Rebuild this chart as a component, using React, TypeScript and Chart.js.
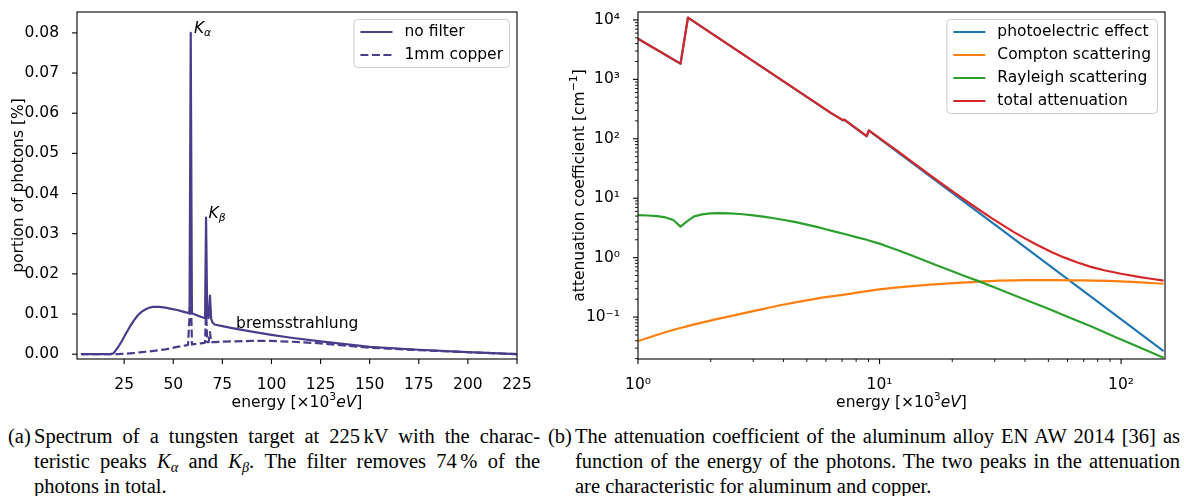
import React, { useEffect, useRef } from "react";
import { Chart, registerables } from "chart.js";

Chart.register(...registerables);

// ---------------- (a) spectrum of a tungsten target ----------------
const spectrumEnergy = [3, 10, 15, 18, 19.5, 20.5, 22, 24, 26, 28, 30, 32, 34, 36, 38, 40, 43, 46, 49, 52, 55, 56.5, 57.5, 58.3, 58.9, 59.5, 60.5, 62, 64, 65.8, 66.2, 66.7, 67.3, 68, 68.7, 69.3, 70, 71, 75, 80, 90, 100, 110, 125, 150, 175, 200, 225];
const spectrumNoFilter = [0, 0, 0, 0, 0.0002, 0.0008, 0.0018, 0.0034, 0.0052, 0.0069, 0.0084, 0.0097, 0.0106, 0.0112, 0.0116, 0.0118, 0.0118, 0.0116, 0.0113, 0.011, 0.0106, 0.0104, 0.0103, 0.0105, 0.08, 0.0102, 0.01, 0.0097, 0.0093, 0.009, 0.0091, 0.034, 0.0092, 0.009, 0.0146, 0.0088, 0.0079, 0.0074, 0.007, 0.0065, 0.0056, 0.0048, 0.0041, 0.0032, 0.0018, 0.0011, 0.0005, 0];
const spectrumCopper = [0, 0, 0, 0, 0, 0, 0, 0.0001, 0.0001, 0.0002, 0.0003, 0.0004, 0.0005, 0.0006, 0.0007, 0.0008, 0.001, 0.0012, 0.0015, 0.0018, 0.0021, 0.0022, 0.0023, 0.0095, 0.018, 0.0024, 0.0025, 0.0026, 0.0027, 0.0028, 0.0029, 0.011, 0.003, 0.003, 0.0055, 0.003, 0.003, 0.003, 0.0031, 0.0032, 0.0033, 0.0033, 0.0031, 0.0027, 0.0016, 0.001, 0.0005, 0];
const spectrumSeries = ["no filter", "1mm copper"];
const spectrumXTicks = [25, 50, 75, 100, 125, 150, 175, 200, 225];
const spectrumYTicks = [0, 0.01, 0.02, 0.03, 0.04, 0.05, 0.06, 0.07, 0.08];
const spectrumRange = { xMin: 1, xMax: 225, yMin: -0.0012, yMax: 0.0852 };
// annotation anchors (energy, portion)
const kAlphaAt = [60.5, 0.08];
const kBetaAt = [68, 0.034];
const bremsAt = [82, 0.0066];

// ---------------- (b) attenuation of EN AW 2014 ----------------
const photoEnergy = [1, 1.5, 1.61, 6.27, 7.05, 7.15, 8.85, 9.03, 31.6, 150];
const photoelectric = [4840, 1835, 10940, 273, 204, 209, 110, 137, 3.07, 0.0268];
const comptonEnergy = [1, 1.25, 1.51, 1.8, 2.24, 3, 4.03, 5.5, 7.28, 10, 14, 19.4, 28.8, 40, 51.8, 70, 93.5, 120, 150];
const compton = [0.0395, 0.053, 0.066, 0.079, 0.097, 0.126, 0.163, 0.205, 0.241, 0.292, 0.335, 0.369, 0.404, 0.418, 0.42, 0.415, 0.404, 0.385, 0.364];
const rayleighEnergy = [1, 1.1, 1.2, 1.3, 1.4, 1.5, 1.6, 1.7, 1.84, 2.0, 2.15, 2.4, 2.72, 3.0, 3.3, 3.65, 4.03, 4.5, 5.0, 5.5, 5.99, 6.6, 7.3, 8.0, 8.85, 9.03, 10, 11, 12, 13.1, 15, 17, 19.4, 22.5, 26, 30, 35, 42.7, 50, 63.2, 75, 93.5, 115, 150];
const rayleigh = [5.21, 5.12, 5.0, 4.75, 4.3, 3.32, 4.1, 4.89, 5.35, 5.55, 5.63, 5.57, 5.37, 5.15, 4.9, 4.6, 4.3, 3.95, 3.6, 3.3, 3.0, 2.72, 2.45, 2.22, 2.0, 1.94, 1.72, 1.5, 1.32, 1.15, 0.93, 0.76, 0.62, 0.49, 0.395, 0.315, 0.245, 0.178, 0.138, 0.093, 0.07, 0.047, 0.033, 0.0206];
const totalEnergy = [1, 1.5, 1.61, 6.27, 7.05, 7.15, 8.85, 9.03, 12, 14, 16.5, 19.4, 22, 24.5, 28.8, 32, 36, 40, 45, 52, 58, 66, 75, 85, 100, 120, 135, 150];
const totalAttenuation = [4850, 1840, 10950, 275, 206, 211, 111, 139, 60, 37.7, 23.1, 14.4, 10.0, 7.4, 4.77, 3.62, 2.69, 2.11, 1.63, 1.22, 1.01, 0.83, 0.7, 0.614, 0.536, 0.469, 0.437, 0.41];
const attenuationSeries = ["photoelectric effect", "Compton scattering", "Rayleigh scattering", "total attenuation"];
const energyTickExponents = [0, 1, 2];
const coefficientTickExponents = [-1, 0, 1, 2, 3, 4];
const attenuationRange = { xMin: 1, xMax: 152, yMin: 0.0197, yMax: 13600 };

// ---------------- styles ----------------
const FONT = '"DejaVu Sans"';
const FS = 15.5;
const SLATE = "#483d8b";
const BLUE = "#1f77b4";
const ORANGE = "#ff7f0e";
const GREEN = "#2ca02c";
const RED = "#d62728";
const LW = 2.2;

type Seg = { t: string; it?: boolean; sup?: boolean; sub?: boolean };

const toPoints = (xs: number[], ys: number[]) => xs.map((x, i) => ({ x, y: ys[i] }));

function segFont(s: Seg, size: number) {
  const sz = s.sup || s.sub ? size * 0.7 : size;
  return `${s.it ? "italic " : ""}${sz}px ${FONT}`;
}
function richWidth(ctx: CanvasRenderingContext2D, segs: Seg[], size: number) {
  let w = 0;
  for (const s of segs) {
    ctx.font = segFont(s, size);
    w += ctx.measureText(s.t).width;
  }
  return w;
}
function drawRich(ctx: CanvasRenderingContext2D, segs: Seg[], x: number, y: number, size: number, align: string) {
  const w = richWidth(ctx, segs, size);
  let cx = align === "center" ? x - w / 2 : align === "right" ? x - w : x;
  ctx.textAlign = "left";
  ctx.textBaseline = "alphabetic";
  for (const s of segs) {
    ctx.font = segFont(s, size);
    const dy = s.sup ? -0.42 * size : s.sub ? 0.22 * size : 0;
    ctx.fillText(s.t, cx, y + dy);
    cx += ctx.measureText(s.t).width;
  }
}
function drawRotated(ctx: CanvasRenderingContext2D, segs: Seg[], x: number, y: number, size: number) {
  ctx.save();
  ctx.translate(x, y);
  ctx.rotate(-Math.PI / 2);
  drawRich(ctx, segs, 0, 0, size, "center");
  ctx.restore();
}
function line(ctx: CanvasRenderingContext2D, x1: number, y1: number, x2: number, y2: number) {
  ctx.beginPath();
  ctx.moveTo(x1, y1);
  ctx.lineTo(x2, y2);
  ctx.stroke();
}
function drawFrame(ctx: CanvasRenderingContext2D, a: any) {
  ctx.strokeStyle = "#000";
  ctx.lineWidth = 1.1;
  ctx.setLineDash([]);
  ctx.strokeRect(a.left, a.top, a.right - a.left, a.bottom - a.top);
}
function drawLegend(ctx: CanvasRenderingContext2D, items: { label: string; color: string; dash?: number[] }[], right: number, top: number) {
  ctx.font = `${FS}px ${FONT}`;
  let maxW = 0;
  for (const it of items) maxW = Math.max(maxW, ctx.measureText(it.label).width);
  const pad = 6.5, handle = 32, gap = 12, rowH = 23, edge = 12.5;
  const width = pad + handle + gap + maxW + pad;
  const height = 2 * edge + (items.length - 1) * rowH;
  const left = right - width;
  ctx.save();
  ctx.beginPath();
  (ctx as any).roundRect(left, top, width, height, 4);
  ctx.fillStyle = "rgba(255,255,255,0.8)";
  ctx.fill();
  ctx.strokeStyle = "#cccccc";
  ctx.lineWidth = 1;
  ctx.stroke();
  items.forEach((it, i) => {
    const y = top + edge + i * rowH;
    ctx.strokeStyle = it.color;
    ctx.lineWidth = LW;
    ctx.setLineDash(it.dash || []);
    line(ctx, left + pad, y, left + pad + handle, y);
    ctx.setLineDash([]);
    ctx.fillStyle = "#000";
    ctx.font = `${FS}px ${FONT}`;
    ctx.textAlign = "left";
    ctx.textBaseline = "middle";
    ctx.fillText(it.label, left + pad + handle + gap, y);
  });
  ctx.restore();
}

const energyTitle: Seg[] = [{ t: "energy [×10" }, { t: "3", sup: true }, { t: "eV", it: true }, { t: "]" }];
const DASH = [8, 3.5];

const sup: Record<string, string> = { "0": "⁰", "1": "¹", "2": "²", "3": "³", "4": "⁴", "-": "⁻" };
const pow10Label = (v: number) => "10" + String(Math.round(Math.log10(v))).split("").map((c) => sup[c]).join("");

const tickFont = { family: "DejaVu Sans", size: FS };

// fix the plot area: fixed axis thickness and no extra label padding
const fitX = (s: any) => { s.height = 61; s.paddingLeft = 0; s.paddingRight = 0; s.paddingTop = 0; s.paddingBottom = 0; };
const fitY = (w: number) => (s: any) => { s.width = w; s.paddingLeft = 0; s.paddingRight = 0; s.paddingTop = 0; s.paddingBottom = 0; };

function spectrumConfig(): any {
  const decor = {
    id: "spectrumDecor",
    afterDraw(chart: any) {
      const { ctx, chartArea: a, scales } = chart;
      const xs = scales.x, ys = scales.y;
      ctx.save();
      drawFrame(ctx, a);
      ctx.lineWidth = 1.1;
      for (const v of spectrumXTicks) { const p = xs.getPixelForValue(v); line(ctx, p, a.bottom, p, a.bottom + 5); }
      for (const v of spectrumYTicks) { const p = ys.getPixelForValue(v); line(ctx, a.left - 5, p, a.left, p); }
      ctx.fillStyle = "#000";
      drawRich(ctx, energyTitle, (a.left + a.right) / 2, 407, FS, "center");
      drawRotated(ctx, [{ t: "portion of photons [%]" }], 23, (a.top + a.bottom) / 2, FS);
      drawRich(ctx, [{ t: "K", it: true }, { t: "α", it: true, sub: true }], xs.getPixelForValue(kAlphaAt[0]), ys.getPixelForValue(kAlphaAt[1]), FS, "left");
      drawRich(ctx, [{ t: "K", it: true }, { t: "β", it: true, sub: true }], xs.getPixelForValue(kBetaAt[0]), ys.getPixelForValue(kBetaAt[1]), FS, "left");
      drawRich(ctx, [{ t: "bremsstrahlung" }], xs.getPixelForValue(bremsAt[0]), ys.getPixelForValue(bremsAt[1]), FS, "left");
      drawLegend(ctx, [
        { label: spectrumSeries[0], color: SLATE },
        { label: spectrumSeries[1], color: SLATE, dash: DASH },
      ], a.right - 7.5, a.top + 7.5);
      ctx.restore();
    },
  };
  const ds = (label: string, ys: number[], dash?: number[]) => ({
    label, data: toPoints(spectrumEnergy, ys), borderColor: SLATE, backgroundColor: SLATE,
    borderWidth: LW, borderDash: dash || [], pointRadius: 0, tension: 0, fill: false,
    borderJoinStyle: "round", borderCapStyle: "butt",
  });
  return {
    type: "line",
    data: { datasets: [ds(spectrumSeries[0], spectrumNoFilter), ds(spectrumSeries[1], spectrumCopper, DASH)] },
    options: {
      responsive: false, animation: false, events: [],
      layout: { padding: { top: 12, right: 23, left: 0, bottom: 0 } },
      plugins: { legend: { display: false }, tooltip: { enabled: false } },
      scales: {
        x: {
          type: "linear", min: spectrumRange.xMin, max: spectrumRange.xMax,
          grid: { display: false }, border: { display: false },
          ticks: { padding: 9, color: "#000", font: tickFont, autoSkip: false, maxRotation: 0, callback: (v: any) => String(v) },
          afterBuildTicks: (s: any) => { s.ticks = spectrumXTicks.map((v) => ({ value: v })); },
          afterFit: fitX,
        },
        y: {
          type: "linear", min: spectrumRange.yMin, max: spectrumRange.yMax,
          grid: { display: false }, border: { display: false },
          ticks: { padding: 10, color: "#000", font: tickFont, autoSkip: false, callback: (v: any) => Number(v).toFixed(2) },
          afterBuildTicks: (s: any) => { s.ticks = spectrumYTicks.map((v) => ({ value: v })); },
          afterFit: fitY(77),
        },
      },
    },
    plugins: [decor],
  };
}

function attenuationConfig(): any {
  const decor = {
    id: "attenuationDecor",
    afterDraw(chart: any) {
      const { ctx, chartArea: a, scales } = chart;
      const xs = scales.x, ys = scales.y;
      ctx.save();
      drawFrame(ctx, a);
      ctx.strokeStyle = "#000";
      ctx.lineWidth = 1.1;
      for (const e of energyTickExponents) { const p = xs.getPixelForValue(Math.pow(10, e)); line(ctx, p, a.bottom, p, a.bottom + 5); }
      for (const e of coefficientTickExponents) { const p = ys.getPixelForValue(Math.pow(10, e)); line(ctx, a.left - 5, p, a.left, p); }
      ctx.lineWidth = 0.9;
      for (let e = Math.floor(Math.log10(xs.min)); e <= Math.ceil(Math.log10(xs.max)); e++) {
        for (let k = 2; k <= 9; k++) {
          const v = k * Math.pow(10, e);
          if (v >= xs.min && v <= xs.max) { const p = xs.getPixelForValue(v); line(ctx, p, a.bottom, p, a.bottom + 3); }
        }
      }
      for (let e = Math.floor(Math.log10(ys.min)); e <= Math.ceil(Math.log10(ys.max)); e++) {
        for (let k = 2; k <= 9; k++) {
          const v = k * Math.pow(10, e);
          if (v >= ys.min && v <= ys.max) { const p = ys.getPixelForValue(v); line(ctx, a.left - 3, p, a.left, p); }
        }
      }
      ctx.fillStyle = "#000";
      drawRich(ctx, energyTitle, (a.left + a.right) / 2, 407, FS, "center");
      drawRotated(ctx, [{ t: "attenuation coefficient [cm" }, { t: "−1", sup: true }, { t: "]" }], 44, (a.top + a.bottom) / 2, FS);
      drawLegend(ctx, [
        { label: attenuationSeries[0], color: BLUE },
        { label: attenuationSeries[1], color: ORANGE },
        { label: attenuationSeries[2], color: GREEN },
        { label: attenuationSeries[3], color: RED },
      ], a.right - 7.5, a.top + 7.5);
      ctx.restore();
    },
  };
  const ds = (label: string, xs: number[], ys: number[], color: string, order: number, smooth = false) => ({
    label, data: toPoints(xs, ys), borderColor: color, backgroundColor: color, borderWidth: LW,
    pointRadius: 0, tension: 0, fill: false, order, borderJoinStyle: "round",
    cubicInterpolationMode: smooth ? "monotone" : "default",
  });
  return {
    type: "line",
    data: {
      datasets: [
        ds(attenuationSeries[0], photoEnergy, photoelectric, BLUE, 4),
        ds(attenuationSeries[1], comptonEnergy, compton, ORANGE, 3, true),
        ds(attenuationSeries[2], rayleighEnergy, rayleigh, GREEN, 2),
        ds(attenuationSeries[3], totalEnergy, totalAttenuation, RED, 1),
      ],
    },
    options: {
      responsive: false, animation: false, events: [],
      layout: { padding: { top: 12, right: 19, left: 0, bottom: 0 } },
      plugins: { legend: { display: false }, tooltip: { enabled: false } },
      scales: {
        x: {
          type: "logarithmic", min: attenuationRange.xMin, max: attenuationRange.xMax,
          grid: { display: false }, border: { display: false },
          ticks: { padding: 9, color: "#000", font: tickFont, autoSkip: false, maxRotation: 0, callback: (v: any) => pow10Label(Number(v)) },
          afterBuildTicks: (s: any) => { s.ticks = energyTickExponents.map((e) => ({ value: Math.pow(10, e) })); },
          afterFit: fitX,
        },
        y: {
          type: "logarithmic", min: attenuationRange.yMin, max: attenuationRange.yMax,
          grid: { display: false }, border: { display: false },
          ticks: { padding: 10, color: "#000", font: tickFont, autoSkip: false, callback: (v: any) => pow10Label(Number(v)) },
          afterBuildTicks: (s: any) => { s.ticks = coefficientTickExponents.map((e) => ({ value: Math.pow(10, e) })); },
          afterFit: fitY(98),
        },
      },
    },
    plugins: [decor],
  };
}

function ChartCanvas({ width, height, makeConfig }: { width: number; height: number; makeConfig: () => any }) {
  const ref = useRef<HTMLCanvasElement>(null);
  useEffect(() => {
    const chart = new Chart(ref.current as HTMLCanvasElement, makeConfig());
    return () => chart.destroy();
  }, []);
  return <canvas ref={ref} width={width} height={height} style={{ display: "block", width, height }} />;
}

const capFont: React.CSSProperties = {
  position: "absolute",
  fontFamily: '"Liberation Serif", serif',
  fontSize: 20.5,
  lineHeight: "25px",
  color: "#000",
  whiteSpace: "nowrap",
};

function Line({ left, top, width, justify, children }: any) {
  return (
    <div style={{ ...capFont, left, top, width, textAlign: "justify", textAlignLast: justify ? "justify" : "left", whiteSpace: "normal", overflow: "visible" }}>
      {children}
    </div>
  );
}

const Ksub = ({ s }: { s: string }) => (
  <span style={{ fontStyle: "italic" }}>
    K<span style={{ fontSize: "0.7em", position: "relative", top: "0.3em" }}>{s}</span>
  </span>
);

const Thin = ({ a, b }: { a: string; b: string }) => (
  <span style={{ whiteSpace: "nowrap" }}>
    {a}
    <span style={{ display: "inline-block", width: 3.5 }} />
    {b}
  </span>
);

export default function App() {
  const rows = [424, 449, 474];
  return (
    <div style={{ position: "absolute", left: 0, top: 0, width: 1184, height: 496, background: "#fff", overflow: "hidden" }}>
      <div style={{ position: "absolute", left: 0, top: 0 }}>
        <ChartCanvas width={540} height={420} makeConfig={spectrumConfig} />
      </div>
      <div style={{ position: "absolute", left: 540, top: 0 }}>
        <ChartCanvas width={644} height={420} makeConfig={attenuationConfig} />
      </div>
      <div style={{ ...capFont, left: 8, top: rows[0] }}>(a)</div>
      <Line left={34} top={rows[0]} width={506} justify>
        Spectrum of a tungsten target at <Thin a="225" b="kV" /> with the charac-
      </Line>
      <Line left={34} top={rows[1]} width={506} justify>
        teristic peaks <Ksub s="α" /> and <Ksub s="β" />. The filter removes <Thin a="74" b="%" /> of the
      </Line>
      <Line left={34} top={rows[2]} width={506}>photons in total.</Line>
      <div style={{ ...capFont, left: 548, top: rows[0] }}>(b)</div>
      <Line left={575} top={rows[0]} width={605} justify>The attenuation coefficient of the aluminum alloy EN AW 2014 [36] as</Line>
      <Line left={575} top={rows[1]} width={605} justify>function of the energy of the photons. The two peaks in the attenuation</Line>
      <Line left={575} top={rows[2]} width={605}>are characteristic for aluminum and copper.</Line>
    </div>
  );
}
